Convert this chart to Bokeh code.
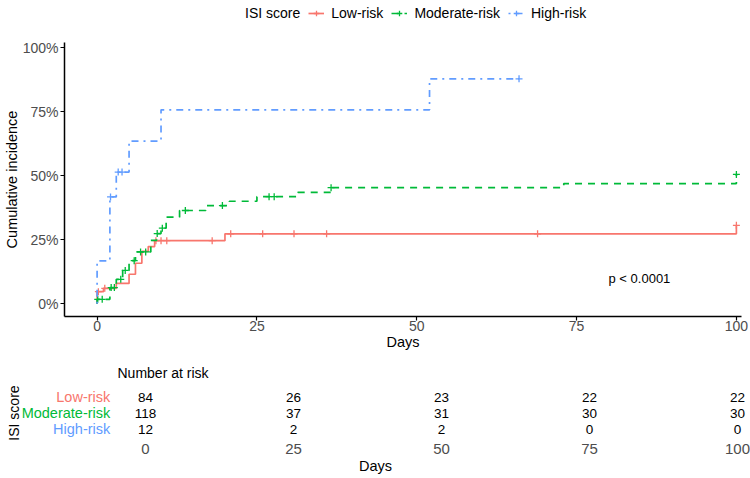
import numpy as np
from bokeh.plotting import figure
from bokeh.layouts import column
from bokeh.models import (Range1d, FixedTicker, Legend, LegendItem, Label, LabelSet,
                          ColumnDataSource, Title)
from bokeh.core.properties import value
from bokeh.embed import file_html
from bokeh.resources import INLINE

# ---------------- data ----------------
groups = ["Low-risk", "Moderate-risk", "High-risk"]
colors = ["#F8766D", "#00BA38", "#619CFF"]
dashes = ["solid", "7 6", "2 5 7 5"]

low_days = [0, 1, 3, 5, 6, 7, 8, 9, 20, 100]
low_ci = [4.7, 6.0, 7.9, 11.5, 15.8, 20.4, 22.3, 24.6, 27.3, 30.6]
low_censor = [0.2, 1.2, 9.2, 10.0, 10.9, 18.0, 20.9, 25.9, 30.8, 35.9, 68.9, 100]

mod_days = [0, 2, 3, 4, 5, 6, 8.4, 9.3, 10, 10.8, 12.9, 17, 20.7, 25, 31.4, 36.6, 73, 100]
mod_ci = [1.7, 6.3, 9.5, 13.0, 16.8, 20.2, 24.7, 27.4, 29.5, 33.8, 36.4, 38.3, 40.0,
          41.8, 43.5, 45.3, 46.9, 50.5]
mod_censor = [0.1, 0.8, 2.2, 2.7, 3.7, 4.4, 5.8, 6.8, 7.6, 9.4, 10.2, 13.8, 19.6,
              26.9, 27.7, 36.6, 100]

high_days = [0, 2, 3, 5, 10, 52]
high_ci = [16.7, 41.7, 51.4, 63.5, 75.7, 87.8]
high_censor = [2.1, 3.3, 3.9, 66]

pct_ticks = [0, 25, 50, 75, 100]
day_ticks = [0, 25, 50, 75, 100]

risk_times = [0, 25, 50, 75, 100]
risk_low = [84, 26, 23, 22, 22]
risk_mod = [118, 37, 31, 30, 30]
risk_high = [12, 2, 2, 0, 0]

p_text = "p < 0.0001"
legend_title = "ISI score"

FONT = "Liberation Sans"
GREY = "#4D4D4D"

series = [
    (low_days, low_ci, low_censor),
    (mod_days, mod_ci, mod_censor),
    (high_days, high_ci, high_censor),
]

X0, X1 = -5.1, 100.8
Y0, Y1 = -5, 102

# build step curves and censor marks from the data
curves = []
for days, ci, cens in series:
    xs = [0] + list(days)
    ys = [0] + list(ci)
    end = max(cens)
    if end > xs[-1]:
        xs.append(end)
        ys.append(ys[-1])
    d = np.array(days, dtype=float)
    idx = np.searchsorted(d, np.array(cens, dtype=float), side="right") - 1
    cy = list(np.array(ci)[idx])
    curves.append((xs, ys, list(cens), cy))

# ---------------- legend strip ----------------
# same series, viewed through a window that holds no data, so only the legend shows
lg = figure(width=750, height=36, x_range=Range1d(1000, 1001), y_range=Range1d(1000, 1001),
            min_border=0, output_backend="svg", toolbar_location=None, frame_align=False)
lg.axis.visible = False
lg.grid.visible = False
lg.outline_line_color = None
lg_items = [LegendItem(label=legend_title,
                       renderers=[lg.step(curves[0][0], curves[0][1], line_alpha=0)])]
for (xs, ys, cx, cy), name, col, dash in zip(curves, groups, colors, dashes):
    r1 = lg.step(xs, ys, mode="after", line_color=col, line_width=1.7, line_dash=dash)
    r2 = lg.scatter(cx, cy, marker="cross", size=7, line_color=col, line_width=1.3)
    lg_items.append(LegendItem(label=name, renderers=[r1, r2]))
lg.add_layout(Legend(items=lg_items, orientation="horizontal", location=(220, 13),
                     background_fill_alpha=0, border_line_alpha=0,
                     label_text_font=FONT, label_text_font_size="14px",
                     label_text_color="black",
                     glyph_width=16, glyph_height=14, spacing=8, label_standoff=7,
                     padding=2, margin=0))

# ---------------- main plot ----------------
p = figure(width=750, height=316, x_range=Range1d(X0, X1), y_range=Range1d(Y0, Y1),
           min_border_left=63, min_border_right=9, min_border_top=6, min_border_bottom=36,
           output_backend="svg", toolbar_location=None, frame_align=False)

for (xs, ys, cx, cy), col, dash in zip(curves, colors, dashes):
    p.step(xs, ys, mode="after", line_color=col, line_width=1.7, line_dash=dash)
    p.scatter(cx, cy, marker="cross", size=7, line_color=col, line_width=1.3)

p.add_layout(Label(x=80, y=9.7, text=p_text, text_font=FONT, text_font_size="13px",
                   text_color="black", text_baseline="middle", text_align="left"))

p.xaxis.ticker = FixedTicker(ticks=day_ticks)
p.yaxis.ticker = FixedTicker(ticks=pct_ticks)
p.yaxis.major_label_overrides = {t: f"{t}%" for t in pct_ticks}
p.xaxis.axis_label = "Days"
p.yaxis.axis_label = "Cumulative incidence"
for ax in [p.xaxis[0], p.yaxis[0]]:
    ax.axis_line_color = "black"
    ax.axis_line_width = 1.5
    ax.major_tick_line_color = "black"
    ax.major_tick_line_width = 1.2
    ax.major_tick_out = 4
    ax.major_tick_in = 0
    ax.minor_tick_line_color = None
    ax.major_label_text_font = FONT
    ax.major_label_text_font_size = "14px"
    ax.major_label_text_color = GREY
    ax.major_label_standoff = 2
    ax.axis_label_text_font = FONT
    ax.axis_label_text_font_size = "14.5px"
    ax.axis_label_text_font_style = "normal"
    ax.axis_label_text_color = "black"
    ax.axis_label_standoff = 0
p.xaxis.major_label_standoff = 0
p.grid.visible = False
p.outline_line_color = None

# ---------------- risk table ----------------
TX0, TX1 = -24.49, 102.2
t = figure(width=750, height=126, x_range=Range1d(TX0, TX1), y_range=Range1d(-0.28, 3.47),
           min_border_left=0, min_border_right=0, min_border_top=29, min_border_bottom=37,
           output_backend="svg", toolbar_location=None, frame_align=False)
t.title = Title(text="Number at risk", align="left", offset=117, text_font=FONT,
                text_font_size="14px", text_font_style="normal", text_color="black",
                standoff=2)

n_rows = len(groups)
row_y = [n_rows - 0.5 - i for i in range(n_rows)]
tab_x, tab_y, tab_txt = [], [], []
for i, counts in enumerate([risk_low, risk_mod, risk_high]):
    for tt, c in zip(risk_times, counts):
        tab_x.append(tt)
        tab_y.append(row_y[i])
        tab_txt.append(str(c))
tsrc = ColumnDataSource(dict(x=tab_x, y=tab_y, text=tab_txt))
t.add_layout(LabelSet(x="x", y="y", text="text", source=tsrc, text_align="center",
                      text_baseline="middle", text_font=value(FONT), text_font_size="13.5px",
                      text_color="black"))

lsrc = ColumnDataSource(dict(x=[X0] * n_rows, y=row_y, text=groups, color=colors))
t.add_layout(LabelSet(x="x", y="y", text="text", source=lsrc, text_align="right",
                      text_baseline="middle", x_offset=-5, text_color="color",
                      text_font=value(FONT), text_font_size="14.5px"))
t.add_layout(Label(x=X0, y=1.5, x_offset=-101, angle=np.pi / 2, text=legend_title,
                   text_align="center", text_baseline="middle", text_font=FONT,
                   text_font_size="14px", text_color="black"))

t.xaxis.ticker = FixedTicker(ticks=risk_times)
t.xaxis.axis_label = "Days"
ax = t.xaxis[0]
ax.axis_line_color = None
ax.major_tick_line_color = None
ax.minor_tick_line_color = None
ax.major_tick_out = 0
ax.major_tick_in = 0
ax.major_label_text_font = FONT
ax.major_label_text_font_size = "15px"
ax.major_label_text_color = GREY
ax.major_label_standoff = 2
ax.axis_label_text_font = FONT
ax.axis_label_text_font_size = "14.5px"
ax.axis_label_text_font_style = "normal"
ax.axis_label_text_color = "black"
ax.axis_label_standoff = 1
t.yaxis.visible = False
t.grid.visible = False
t.outline_line_color = None

layout = column(lg, p, t, spacing=0)
open("out.html", "w").write(file_html(layout, INLINE))
